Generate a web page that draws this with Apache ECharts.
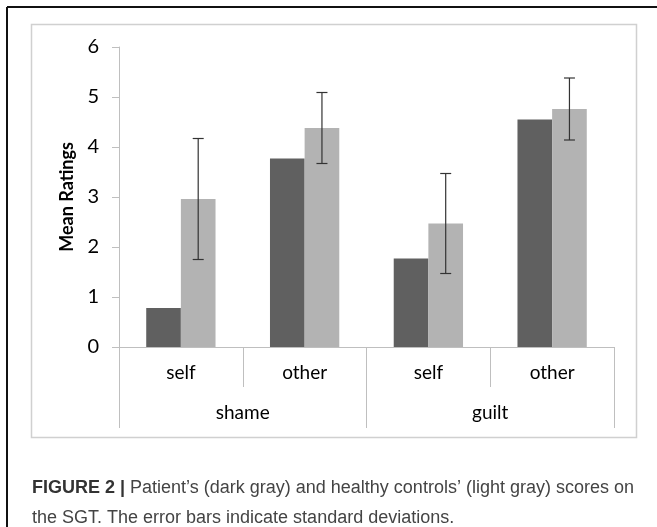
<!DOCTYPE html>
<html>
<head>
<meta charset="utf-8">
<script src="https://cdn.jsdelivr.net/npm/echarts@6/dist/echarts.min.js"></script>
<style>
  html, body { margin: 0; padding: 0; background: #fff; }
  #chart { width: 657px; height: 527px; }
</style>
</head>
<body>
<div id="chart"></div>
<script>
// conditions (inner level) and emotion groups (outer level)
var categories = ["self", "other", "self", "other"];
var groups = ["shame", "guilt"];
// mean ratings
var patients = [0.78, 3.77, 1.77, 4.55];
var controls = [2.96, 4.38, 2.47, 4.76];
// standard deviations of the controls
var controlsSD = [1.21, 0.71, 1.0, 0.62];
var yTicks = [0, 1, 2, 3, 4, 5, 6];

var FONT = "Lato, 'Open Sans', sans-serif";
var chart = echarts.init(document.getElementById("chart"));

var errData = controls.map(function (v, i) {
  return [i, v - controlsSD[i], v + controlsSD[i]];
});

chart.setOption({
  animation: false,
  backgroundColor: "#fff",
  grid: { left: 119, right: 43, top: 47, bottom: 180 },
  xAxis: [
    {
      type: "category",
      data: categories,
      axisLine: { lineStyle: { color: "#bfbfbf", width: 1 } },
      axisTick: { show: true, interval: 0, length: 40, lineStyle: { color: "#bfbfbf" } },
      axisLabel: { interval: 0, margin: 16, color: "#000", fontSize: 19, fontFamily: FONT }
    },
    {
      type: "category",
      data: groups,
      position: "bottom",
      axisLine: { show: false },
      axisTick: { show: true, interval: 0, length: 81, lineStyle: { color: "#bfbfbf" } },
      axisLabel: { interval: 0, margin: 56, color: "#000", fontSize: 19, fontFamily: FONT }
    }
  ],
  yAxis: {
    type: "value",
    min: yTicks[0],
    max: yTicks[yTicks.length - 1],
    interval: 1,
    name: "Mean Ratings",
    nameLocation: "middle",
    nameGap: 42,
    nameTextStyle: { color: "#000", fontSize: 18, fontWeight: "bold", fontFamily: FONT },
    axisLine: { show: true, lineStyle: { color: "#bfbfbf", width: 1 } },
    axisTick: { show: true, length: 7, lineStyle: { color: "#bfbfbf" } },
    splitLine: { show: false },
    axisLabel: { margin: 20, color: "#000", fontSize: 20, fontFamily: FONT }
  },
  series: [
    {
      name: "Patient",
      type: "bar",
      data: patients,
      barGap: "0%",
      barCategoryGap: "44%",
      itemStyle: { color: "#606060" }
    },
    {
      name: "Controls",
      type: "bar",
      data: controls,
      barGap: "0%",
      barCategoryGap: "44%",
      itemStyle: { color: "#b3b3b3" }
    },
    {
      // error bars on the light gray bars
      type: "custom",
      data: errData,
      z: 10,
      renderItem: function (params, api) {
        var idx = api.value(0);
        var lo = api.coord([idx, api.value(1)]);
        var hi = api.coord([idx, api.value(2)]);
        var band = api.size([1, 0])[0];
        var x = lo[0] + band * 0.14;
        var cap = 5.5;
        var st = { stroke: "#333", lineWidth: 1.2 };
        return {
          type: "group",
          children: [
            { type: "line", shape: { x1: x, y1: hi[1], x2: x, y2: lo[1] }, style: st },
            { type: "line", shape: { x1: x - cap, y1: hi[1], x2: x + cap, y2: hi[1] }, style: st },
            { type: "line", shape: { x1: x - cap, y1: lo[1], x2: x + cap, y2: lo[1] }, style: st }
          ]
        };
      }
    }
  ],
  graphic: [
    { type: "line", shape: { x1: 7, y1: 7, x2: 657, y2: 7 }, style: { stroke: "#111", lineWidth: 2 } },
    { type: "line", shape: { x1: 7, y1: 7, x2: 7, y2: 527 }, style: { stroke: "#111", lineWidth: 2 } },
    { type: "rect", shape: { x: 31.5, y: 24.5, width: 605, height: 413 }, style: { fill: null, stroke: "#d0d0d0", lineWidth: 1.5 }, z: -1 },
    {
      type: "text",
      left: 32,
      top: 473,
      style: {
        text: "{b|FIGURE 2 |} Patient\u2019s (dark gray) and healthy controls\u2019 (light gray) scores on\nthe SGT. The error bars indicate standard deviations.",
        fontFamily: "'Liberation Sans', Arial, sans-serif",
        fontSize: 18,
        lineHeight: 30,
        fill: "#444",
        rich: {
          b: { fontWeight: "bold", fontSize: 18, fill: "#333", fontFamily: "'Liberation Sans', Arial, sans-serif" }
        }
      }
    }
  ]
});
</script>
</body>
</html>
